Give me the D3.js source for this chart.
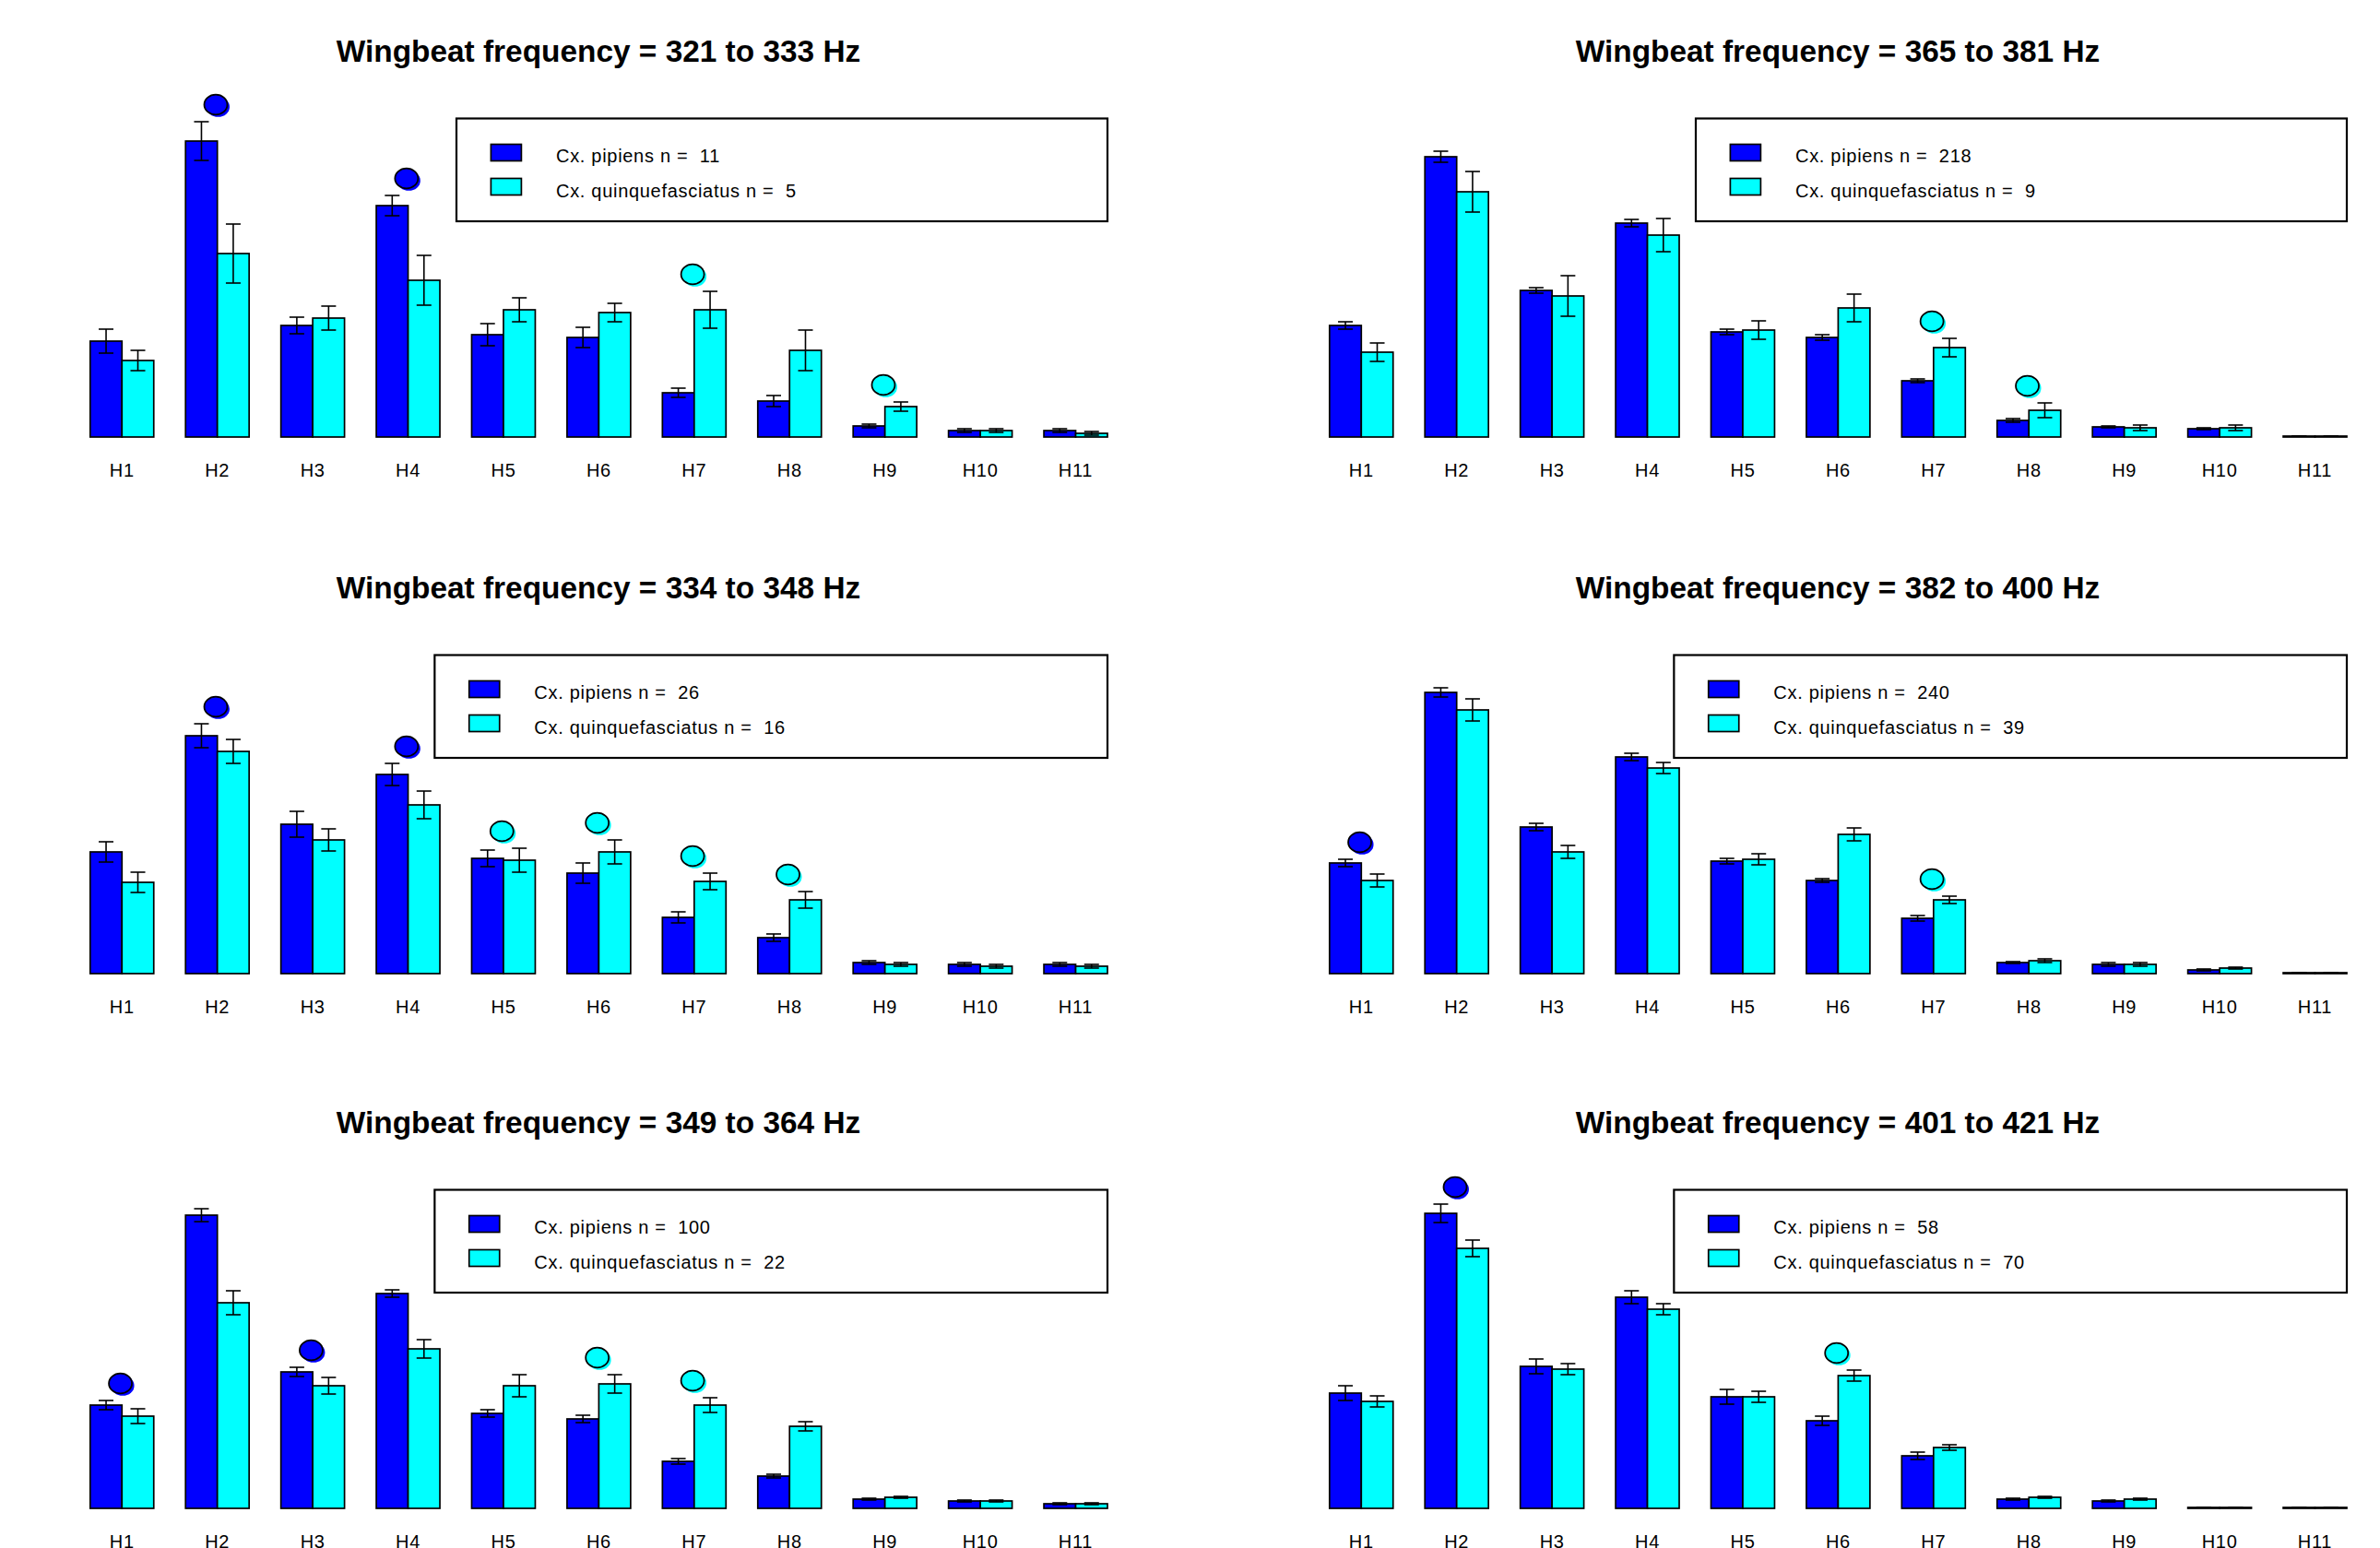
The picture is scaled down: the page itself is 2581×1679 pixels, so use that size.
<!DOCTYPE html>
<html>
<head>
<meta charset="utf-8">
<script src="https://cdn.jsdelivr.net/npm/d3@7"></script>
<style>
  body { margin: 0; background: #fff; }
  text { font-family: 'Liberation Sans', Arial, sans-serif; }
</style>
</head>
<body>
<script>
const harmonics = ['H1', 'H2', 'H3', 'H4', 'H5', 'H6', 'H7', 'H8', 'H9', 'H10', 'H11']

// panels: left column top to bottom, then right column
const freqRanges = ['321 to 333', '334 to 348', '349 to 364', '365 to 381', '382 to 400', '401 to 421']
const pipiensN = [11, 26, 100, 218, 240, 58]
const quinqN = [5, 16, 22, 9, 39, 70]

const pipiensMean = [
  [0.104, 0.321, 0.121, 0.251, 0.111, 0.108, 0.048, 0.039, 0.012, 0.007, 0.007],
  [0.132, 0.258, 0.162, 0.216, 0.125, 0.109, 0.061, 0.039, 0.012, 0.010, 0.010],
  [0.112, 0.318, 0.148, 0.233, 0.103, 0.097, 0.051, 0.035, 0.010, 0.008, 0.005],
  [0.121, 0.304, 0.159, 0.232, 0.114, 0.108, 0.061, 0.018, 0.011, 0.009, 0.001],
  [0.120, 0.305, 0.159, 0.235, 0.122, 0.101, 0.060, 0.012, 0.010, 0.004, 0.001],
  [0.125, 0.320, 0.154, 0.229, 0.121, 0.095, 0.057, 0.010, 0.008, 0.001, 0.001]
]
const pipiensSE = [
  [0.013, 0.021, 0.009, 0.011, 0.012, 0.011, 0.005, 0.006, 0.002, 0.002, 0.002],
  [0.011, 0.013, 0.014, 0.012, 0.009, 0.011, 0.006, 0.004, 0.002, 0.002, 0.002],
  [0.005, 0.007, 0.005, 0.004, 0.004, 0.004, 0.003, 0.002, 0.001, 0.001, 0.001],
  [0.004, 0.006, 0.003, 0.004, 0.003, 0.003, 0.002, 0.002, 0.001, 0.001, 0.000],
  [0.004, 0.005, 0.004, 0.004, 0.003, 0.002, 0.003, 0.001, 0.002, 0.001, 0.000],
  [0.008, 0.010, 0.008, 0.007, 0.008, 0.005, 0.004, 0.001, 0.001, 0.000, 0.000]
]
const quinqMean = [
  [0.083, 0.199, 0.129, 0.170, 0.138, 0.135, 0.138, 0.094, 0.033, 0.007, 0.004],
  [0.099, 0.241, 0.145, 0.183, 0.123, 0.132, 0.100, 0.080, 0.010, 0.008, 0.008],
  [0.100, 0.223, 0.133, 0.173, 0.133, 0.135, 0.112, 0.089, 0.012, 0.008, 0.005],
  [0.092, 0.266, 0.153, 0.219, 0.116, 0.140, 0.097, 0.029, 0.010, 0.010, 0.001],
  [0.101, 0.286, 0.132, 0.223, 0.124, 0.151, 0.080, 0.014, 0.010, 0.006, 0.001],
  [0.116, 0.282, 0.151, 0.216, 0.121, 0.144, 0.066, 0.012, 0.010, 0.001, 0.001]
]
const quinqSE = [
  [0.011, 0.032, 0.013, 0.027, 0.013, 0.010, 0.020, 0.022, 0.005, 0.002, 0.002],
  [0.011, 0.013, 0.012, 0.015, 0.013, 0.013, 0.009, 0.009, 0.002, 0.002, 0.002],
  [0.008, 0.013, 0.009, 0.010, 0.012, 0.010, 0.008, 0.005, 0.001, 0.001, 0.001],
  [0.010, 0.022, 0.022, 0.018, 0.010, 0.015, 0.010, 0.008, 0.003, 0.003, 0.000],
  [0.007, 0.012, 0.007, 0.006, 0.006, 0.007, 0.004, 0.002, 0.002, 0.001, 0.000],
  [0.006, 0.009, 0.006, 0.006, 0.006, 0.006, 0.003, 0.001, 0.001, 0.000, 0.000]
]

// harmonics flagged as significantly different, by the species that is higher
const pipiensMarks = [['H2', 'H4'], ['H2', 'H4'], ['H1', 'H3'], [], ['H1'], ['H2']]
const quinqMarks = [['H7', 'H9'], ['H5', 'H6', 'H7', 'H8'], ['H6', 'H7'], ['H7', 'H8'], ['H7'], ['H6']]

const colors = { pipiens: '#0000ff', quinq: '#00ffff' }

let size = { width: 2581, height: 1679 }
let colOffset = [0, 1344]
let rowOffset = [0, 582, 1162]
let baseline = 474
let legendRight = 1201
let legendTop = 128.5

let svg = d3.select('body')
  .append('svg')
  .attr('width', size.width)
  .attr('height', size.height)

svg.append('rect')
  .attr('width', size.width)
  .attr('height', size.height)
  .attr('fill', '#fff')

let x = d3.scaleBand()
  .domain(harmonics)
  .range([97.8, 1201])
  .paddingInner(1 / 3)
  .paddingOuter(0)

let xSeries = d3.scaleBand()
  .domain(['pipiens', 'quinq'])
  .range([0, x.bandwidth()])

let y = d3.scaleLinear()
  .domain([0, 0.35])
  .range([baseline, baseline - 350])

let refLen = null

freqRanges.forEach((range, i) => {
  let g = svg.append('g')
    .attr('transform', 'translate(' + colOffset[Math.floor(i / 3)] + ',' + rowOffset[i % 3] + ')')

  g.append('text')
    .attr('x', 649)
    .attr('y', 67)
    .attr('text-anchor', 'middle')
    .style('font-size', '33.4px')
    .style('font-weight', 'bold')
    .text('Wingbeat frequency = ' + range + ' Hz')

  let data = []
  harmonics.forEach((h, j) => {
    data.push({ h: h, key: 'pipiens', mean: pipiensMean[i][j], se: pipiensSE[i][j] })
    data.push({ h: h, key: 'quinq', mean: quinqMean[i][j], se: quinqSE[i][j] })
  })

  g.selectAll('rect.bar')
    .data(data)
    .enter()
    .append('rect')
    .attr('class', 'bar')
    .attr('x', d => x(d.h) + xSeries(d.key))
    .attr('y', d => y(d.mean))
    .attr('width', xSeries.bandwidth())
    .attr('height', d => y(0) - y(d.mean))
    .attr('fill', d => colors[d.key])
    .attr('stroke', '#000')
    .attr('stroke-width', 1.7)

  let err = g.selectAll('g.err')
    .data(data)
    .enter()
    .append('g')
    .attr('class', 'err')
    .attr('stroke', '#000')
    .attr('stroke-width', 1.6)
  let cx = d => x(d.h) + xSeries(d.key) + xSeries.bandwidth() / 2
  err.append('line')
    .attr('x1', cx).attr('x2', cx)
    .attr('y1', d => y(d.mean - d.se)).attr('y2', d => y(d.mean + d.se))
  err.append('line')
    .attr('x1', d => cx(d) - 8).attr('x2', d => cx(d) + 8)
    .attr('y1', d => y(d.mean + d.se)).attr('y2', d => y(d.mean + d.se))
  err.append('line')
    .attr('x1', d => cx(d) - 8).attr('x2', d => cx(d) + 8)
    .attr('y1', d => y(d.mean - d.se)).attr('y2', d => y(d.mean - d.se))

  // significance markers
  let marks = pipiensMarks[i].map(h => ({ h: h, key: 'pipiens' }))
    .concat(quinqMarks[i].map(h => ({ h: h, key: 'quinq' })))
  marks.forEach(m => {
    let j = harmonics.indexOf(m.h)
    let top = Math.max(pipiensMean[i][j] + pipiensSE[i][j], quinqMean[i][j] + quinqSE[i][j])
    let mx = x(m.h) + x.bandwidth() / 2 - 1.7
    let my = y(top) - 18.5
    g.append('ellipse')
      .attr('cx', mx + 2.5).attr('cy', my + 2.5)
      .attr('rx', 12.5).attr('ry', 10.8)
      .attr('fill', colors[m.key])
    g.append('ellipse')
      .attr('cx', mx).attr('cy', my)
      .attr('rx', 12.5).attr('ry', 10.8)
      .attr('fill', colors[m.key])
      .attr('stroke', '#000')
      .attr('stroke-width', 1.8)
  })

  let axis = g.append('g')
    .attr('transform', 'translate(0,' + baseline + ')')
    .call(d3.axisBottom(x).tickSize(0).tickPadding(29))
  axis.select('.domain').remove()
  axis.selectAll('text')
    .attr('font-family', null)
    .style('font-size', '20px')
    .style('letter-spacing', '0.7px')
    .attr('fill', '#000')

  // legend
  let labels = ['Cx. pipiens n =  ' + pipiensN[i], 'Cx. quinquefasciatus n =  ' + quinqN[i]]
  let legend = g.append('g')
  let texts = legend.selectAll('text')
    .data(labels)
    .enter()
    .append('text')
    .attr('y', (d, k) => legendTop + 47.5 + k * 38)
    .style('font-size', '20px')
    .style('letter-spacing', '0.7px')
    .style('white-space', 'pre')
    .text(d => d)
  let maxLen = d3.max(texts.nodes(), n => n.getComputedTextLength())
  if (refLen === null) refLen = maxLen
  let boxW = 706 + 2 * (maxLen - refLen)
  let left = legendRight - boxW
  texts.attr('x', left + 108)

  legend.append('rect')
    .attr('x', left)
    .attr('y', legendTop)
    .attr('width', boxW)
    .attr('height', 111.5)
    .attr('fill', 'none')
    .attr('stroke', '#000')
    .attr('stroke-width', 2.2)

  legend.selectAll('rect.key')
    .data(['pipiens', 'quinq'])
    .enter()
    .append('rect')
    .attr('class', 'key')
    .attr('x', left + 37.4)
    .attr('y', (d, k) => legendTop + 28 + k * 37)
    .attr('width', 33)
    .attr('height', 18)
    .attr('fill', d => colors[d])
    .attr('stroke', '#000')
    .attr('stroke-width', 1.7)
})
</script>
</body>
</html>
